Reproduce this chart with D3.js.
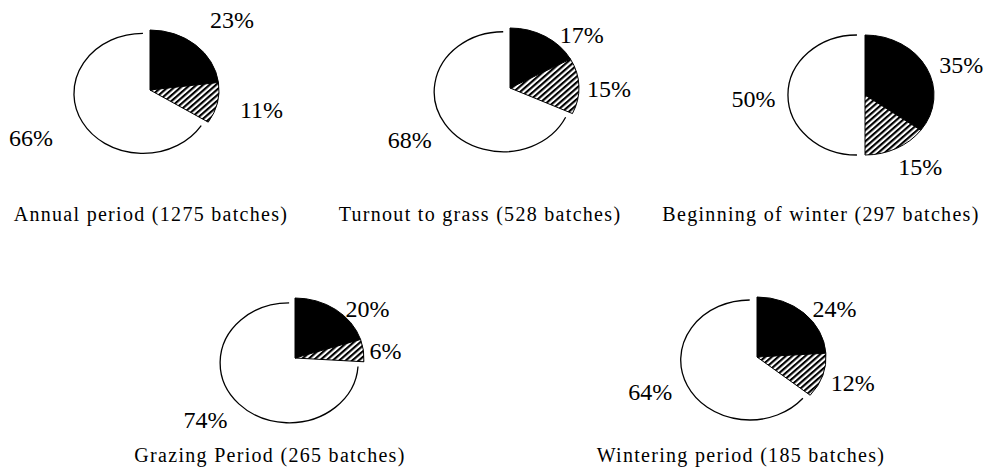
<!DOCTYPE html>
<html>
<head>
<meta charset="utf-8">
<script src="https://cdn.jsdelivr.net/npm/d3@7"></script>
<style>
  body { margin: 0; background: #fff; }
  svg { display: block; font-family: "Liberation Serif", "Times New Roman", serif; }
</style>
</head>
<body>
<svg id="chart"></svg>
<script>
// data, one entry per pie
const titles = [
  'Annual period (1275 batches)',
  'Turnout to grass (528 batches)',
  'Beginning of winter (297 batches)',
  'Grazing Period (265 batches)',
  'Wintering period (185 batches)'
];
const blackShare = [23, 17, 35, 20, 24];
const hatchShare = [11, 15, 15, 6, 12];
const whiteShare = [66, 68, 50, 74, 64];
const sliceKinds = ['black', 'hatch', 'white'];

// layout
const width = 988;
const height = 469;
const radius = 60;
const stretchX = 1.15;
const explode = 7;
const pieCenters = [[150, 90], [510, 88], [865, 95], [295, 358], [757, 357]];
const captionPos = [[151, 221], [480, 221], [821, 221], [270, 462], [741, 462]];
// label placement: radius and angle nudge (degrees) per slice, in slice order
const labelRadius = [[100, 99, 114], [82, 86, 101], [89, 86, 97], [80, 79, 99], [83, 87, 99]];
const labelNudge = [[4, -1, 4], [19, 2, 2], [7, -7, -2], [16, 2, 5], [11, -1, 5]];

let svg = d3.select('#chart')
  .attr('width', width)
  .attr('height', height);

let defs = svg.append('defs');
defs.append('pattern')
  .attr('id', 'hatch')
  .attr('patternUnits', 'userSpaceOnUse')
  .attr('width', 4)
  .attr('height', 4)
  .attr('patternTransform', 'rotate(45)')
  .call(p => {
    p.append('rect').attr('width', 4).attr('height', 4).attr('fill', '#fff');
    p.append('rect').attr('width', 2).attr('height', 4).attr('fill', '#000');
  });

let pie = d3.pie().sort(null).value(d => d.value);
let arc = d3.arc().innerRadius(0).outerRadius(radius);
let rim = d3.arc().innerRadius(radius).outerRadius(radius);

let fillFor = kind => kind === 'black' ? '#000' : kind === 'hatch' ? 'url(#hatch)' : '#fff';

titles.forEach((title, i) => {
  let values = [blackShare[i], hatchShare[i], whiteShare[i]]
    .map((v, k) => ({ kind: sliceKinds[k], value: v }));
  let slices = pie(values);

  let g = svg.append('g')
    .attr('transform', 'translate(' + pieCenters[i][0] + ',' + pieCenters[i][1] + ')');

  // the pie itself is drawn on a circle and stretched sideways
  let body = g.append('g').attr('transform', 'scale(' + stretchX + ',1)');

  slices.forEach(s => {
    let mid = (s.startAngle + s.endAngle) / 2;
    let off = s.data.kind === 'white' ? explode : 0;
    let sg = body.append('g')
      .attr('transform', 'translate(' + (Math.sin(mid) * off) + ',' + (-Math.cos(mid) * off) + ')');
    sg.append('path')
      .attr('d', arc(s))
      .attr('fill', fillFor(s.data.kind))
      .attr('stroke', s.data.kind === 'white' ? 'none' : '#000')
      .attr('stroke-width', 1)
      .attr('vector-effect', 'non-scaling-stroke');
    if (s.data.kind === 'white') {
      sg.append('path')
        .attr('d', rim(s))
        .attr('fill', 'none')
        .attr('stroke', '#000')
        .attr('stroke-width', 1.3)
        .attr('vector-effect', 'non-scaling-stroke');
    }
  });

  // percentage labels
  slices.forEach((s, k) => {
    let mid = (s.startAngle + s.endAngle) / 2 + labelNudge[i][k] * Math.PI / 180;
    let r = labelRadius[i][k];
    g.append('text')
      .attr('x', Math.sin(mid) * r * stretchX)
      .attr('y', -Math.cos(mid) * r)
      .attr('dy', '0.35em')
      .attr('text-anchor', 'middle')
      .attr('font-size', 24)
      .attr('fill', '#000')
      .text(s.data.value + '%');
  });

  svg.append('text')
    .attr('x', captionPos[i][0])
    .attr('y', captionPos[i][1])
    .attr('text-anchor', 'middle')
    .attr('font-size', 20)
    .attr('letter-spacing', 1.3)
    .attr('fill', '#000')
    .text(title);
});
</script>
</body>
</html>
